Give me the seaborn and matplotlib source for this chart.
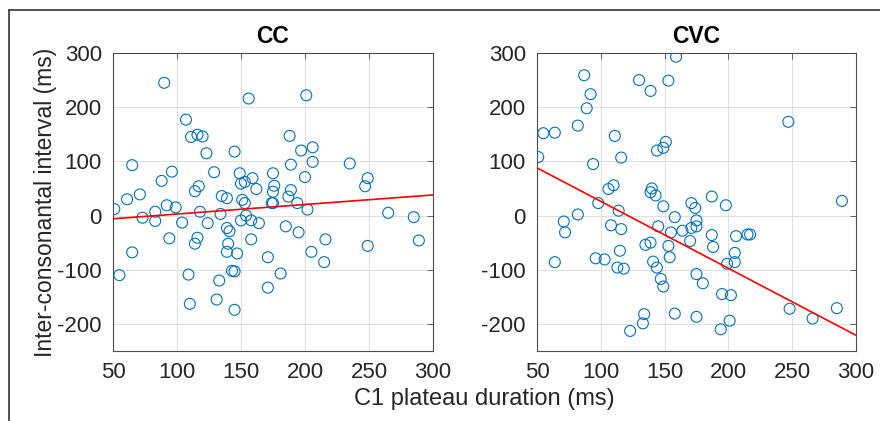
import numpy as np
import seaborn as sns
import matplotlib.pyplot as plt
from matplotlib.lines import Line2D

# values
cc_x = [90, 156, 201, 107, 111, 116, 120, 123, 145, 65,
        96, 129, 88, 149, 150, 153, 159, 162, 175, 176,
        175, 174, 175, 188, 197, 206, 206, 189, 200, 189,
        187, 194, 202, 235, 247, 249, 265, 285, 289, 249,
        216, 215, 205, 195, 185, 181, 171, 171, 164, 158,
        154, 150, 158, 153, 151, 139, 135, 134, 139, 141,
        140, 139, 147, 143, 145, 133, 131, 145, 110, 109,
        114, 116, 124, 118, 114, 117, 104, 99, 92, 94,
        83, 83, 73, 71, 61, 51, 55, 65]
cc_y = [245, 216, 222, 177, 145, 149, 146, 115, 118, 93,
        81, 80, 64, 78, 59, 62, 69, 49, 78, 55,
        44, 23, 23, 147, 120, 126, 99, 94, 71, 47,
        35, 23, 11, 96, 54, 69, 5, -3, -46, -56,
        -44, -86, -67, -31, -20, -107, -77, -133, -14, -9,
        0, -9, -44, 23, 29, 32, 36, 3, -23, -29,
        -52, -67, -70, -102, -103, -120, -155, -174, -163, -109,
        -52, -41, -14, 7, 45, 54, -13, 15, 19, -42,
        7, -10, -4, 39, 30, 12, -110, -68]

cvc_x = [159, 87, 92, 89, 130, 139, 153, 82, 55, 64,
         51, 94, 111, 116, 151, 149, 144, 247, 289, 106,
         110, 140, 139, 143, 98, 114, 149, 158, 171, 174,
         187, 198, 175, 171, 175, 164, 155, 145, 170, 153,
         154, 187, 188, 206, 215, 217, 205, 205, 199, 175,
         180, 195, 202, 201, 194, 175, 158, 134, 133, 123,
         147, 149, 144, 141, 135, 139, 115, 108, 116, 113,
         118, 96, 103, 82, 71, 72, 64, 248, 266, 285]
cvc_y = [293, 259, 224, 198, 250, 230, 249, 166, 152, 153,
         108, 95, 147, 107, 136, 125, 120, 173, 27, 49,
         56, 50, 43, 37, 23, 9, 17, -3, 23, 14,
         35, 19, -9, -23, -20, -28, -31, -20, -47, -56,
         -77, -36, -58, -38, -35, -35, -69, -86, -89, -108,
         -125, -145, -147, -194, -210, -187, -181, -182, -199, -213,
         -117, -131, -96, -85, -54, -50, -65, -18, -25, -96,
         -98, -79, -81, 2, -11, -31, -86, -172, -190, -171]

# red fit lines, as drawn in the reference (ends at x = 50 and 300)
fit_x = [50, 300]
cc_fit = [-6, 38]
cvc_fit = [88, -221]

titles = ["CC", "CVC"]
x_ticks = [50, 100, 150, 200, 250, 300]
y_ticks = [-200, -100, 0, 100, 200, 300]

sns.set_theme(style="whitegrid")
plt.rcParams['font.family'] = ['Liberation Sans', 'DejaVu Sans']
plt.rcParams['axes.unicode_minus'] = False

txt = "#262626"
fig = plt.figure(figsize=(8.8, 4.21), dpi=100)
ax1 = fig.add_axes([0.1284, 0.1663, 0.3636, 0.7078])
ax2 = fig.add_axes([0.6102, 0.1663, 0.3625, 0.7078])

panels = [(ax1, cc_x, cc_y, cc_fit, titles[0]),
          (ax2, cvc_x, cvc_y, cvc_fit, titles[1])]
for ax, xs, ys, fit, name in panels:
    sns.scatterplot(x=xs, y=ys, ax=ax, marker="o", s=62, facecolors="none",
                    edgecolor="#0072BD", linewidth=0.8, zorder=3)
    sns.lineplot(x=fit_x, y=fit, ax=ax, color="red", lw=1.2, zorder=4)
    ax.set_xlim(50, 300)
    ax.set_ylim(-250, 300)
    ax.set_xticks(x_ticks)
    ax.set_yticks(y_ticks)
    ax.grid(True, color="#dedede", lw=0.7)
    ax.set_facecolor("white")
    for s in ax.spines.values():
        s.set_color("#4d4d4d")
        s.set_linewidth(0.8)
    ax.tick_params(direction="in", length=4, width=0.6, color="#4d4d4d",
                   top=True, right=True, labelsize=16, labelcolor=txt, pad=8)
    ax.set_title(name, fontsize=16.5, fontweight="bold", color="black", pad=7)

fig.text(0.052, 0.52, "Inter-consonantal interval (ms)", rotation=90,
         ha="center", va="center", fontsize=16.5, color=txt)
fig.text(0.55, 0.052, "C1 plateau duration (ms)", ha="center", va="center",
         fontsize=17, color=txt)

# outer frame (left and top edges only visible)
fig.add_artist(Line2D([0.0102, 0.0102], [0, 0.976], color="#333333", lw=1.2))
fig.add_artist(Line2D([0.0102, 1], [0.976, 0.976], color="#333333", lw=1.2))

fig.savefig("out.png", dpi=100)
